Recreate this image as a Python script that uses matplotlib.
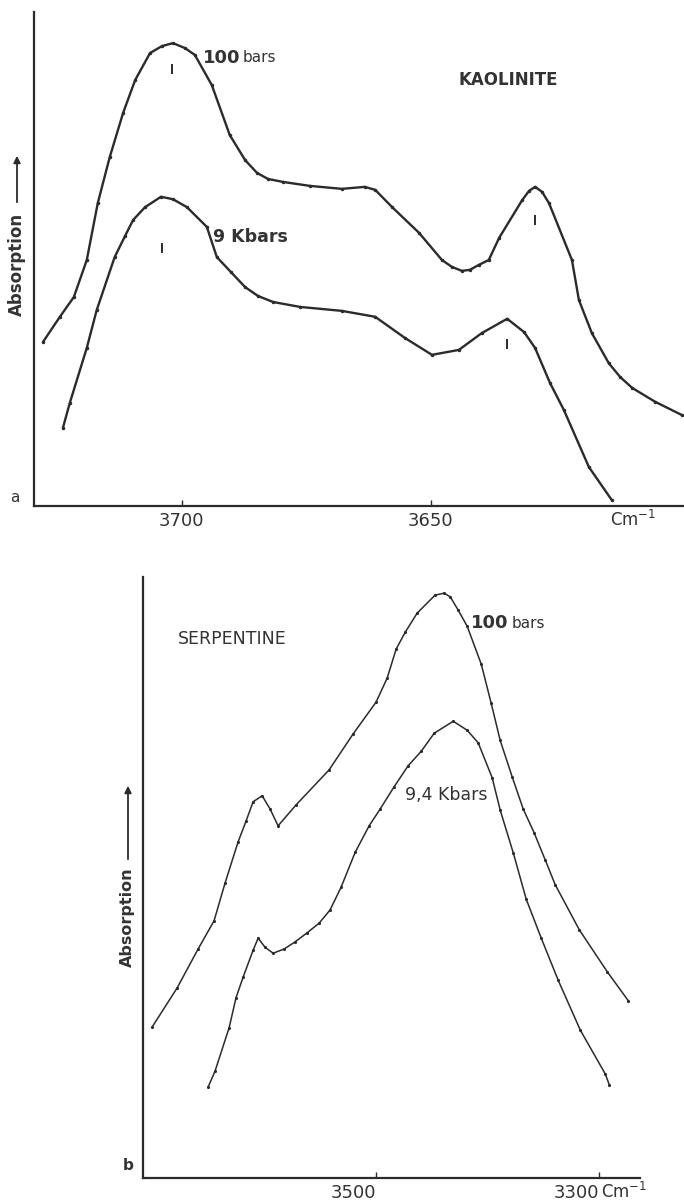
import matplotlib.pyplot as plt

plt.rcParams.update({'font.family': 'DejaVu Sans', 'text.color': '#333333'})

INK = '#2b2b2b'

# --- a : kaolinite, wavenumber (cm-1) vs absorption (arbitrary units) ---
kao_x_100 = [3727.9, 3724.5, 3721.7, 3719.1, 3716.9, 3714.5, 3711.8, 3709.4, 3706.4,
             3704.0, 3701.8, 3699.4, 3697.4, 3694.0, 3690.4, 3687.3, 3684.9, 3682.7,
             3679.7, 3674.3, 3667.9, 3663.3, 3661.2, 3657.8, 3652.4, 3647.8, 3645.8,
             3643.8, 3642.2, 3640.4, 3638.4, 3636.3, 3631.7, 3630.3, 3629.1, 3627.7,
             3626.3, 3621.7, 3620.3, 3617.7, 3614.3, 3612.0, 3609.6, 3605.0, 3599.6]
kao_y_100 = [33.2, 38.3, 42.3, 49.8, 61.3, 70.6, 79.6, 86.2, 91.7,
             93.1, 93.7, 92.7, 91.3, 85.2, 75.1, 70.0, 67.4, 66.2,
             65.6, 64.8, 64.2, 64.6, 64.0, 60.5, 55.3, 49.8, 48.4,
             47.6, 47.8, 48.8, 49.8, 54.3, 61.9, 63.8, 64.6, 63.6,
             61.3, 49.8, 41.7, 35.0, 28.9, 26.1, 23.9, 21.1, 18.4]

kao_x_9k = [3723.9, 3722.5, 3719.1, 3717.1, 3713.5, 3711.4, 3709.8, 3707.4, 3704.2,
            3701.8, 3699.0, 3695.0, 3693.0, 3690.2, 3687.3, 3684.7, 3681.7, 3676.3,
            3667.9, 3661.2, 3655.2, 3649.8, 3644.4, 3639.8, 3634.7, 3631.3, 3629.1,
            3626.1, 3623.3, 3618.3, 3613.7]
kao_y_9k = [15.8, 20.9, 32.0, 39.7, 50.4, 54.7, 57.9, 60.5, 62.6,
            62.1, 60.5, 56.5, 50.4, 47.4, 44.3, 42.5, 41.3, 40.3,
            39.5, 38.3, 34.0, 30.6, 31.6, 35.0, 37.9, 35.2, 32.0,
            24.9, 19.4, 7.9, 1.2]

# little vertical bars under the band maxima
kao_mark_x = [3702.0, 3704.0, 3629.1, 3634.7]
kao_mark_y = [88.5, 52.2, 57.9, 32.8]
kao_ticks = [3700, 3650]

# --- b : serpentine ---
serp_x_100 = [3700.9, 3678.5, 3659.6, 3645.3, 3635.4, 3623.8, 3616.6, 3610.3, 3602.2,
              3595.1, 3587.9, 3571.7, 3542.2, 3520.6, 3500.0, 3490.1, 3482.1, 3474.0,
              3463.2, 3447.1, 3439.0, 3433.6, 3426.5, 3418.4, 3405.8, 3396.9, 3388.8,
              3378.0, 3368.2, 3358.3, 3348.4, 3339.5, 3317.9, 3292.8, 3274.0]
serp_y_100 = [25.1, 31.6, 38.1, 42.8, 49.1, 55.9, 59.4, 62.6, 63.6,
              61.4, 58.6, 62.1, 67.9, 73.9, 79.2, 83.2, 88.0, 90.8,
              94.0, 97.0, 97.3, 96.7, 94.5, 91.8, 85.5, 79.0, 72.8,
              66.7, 61.4, 57.4, 52.9, 48.8, 41.3, 34.3, 29.5]

serp_x_94k = [3650.7, 3644.4, 3631.8, 3625.6, 3619.3, 3610.3, 3605.8, 3599.6, 3592.4,
              3582.5, 3572.6, 3561.9, 3551.1, 3541.3, 3531.4, 3518.8, 3506.3, 3496.4,
              3483.9, 3471.3, 3459.6, 3448.0, 3430.9, 3418.4, 3408.5, 3396.0, 3388.8,
              3377.1, 3365.5, 3352.0, 3336.8, 3317.0, 3294.6, 3291.0]
serp_y_94k = [15.1, 17.8, 25.0, 30.0, 33.4, 37.9, 39.9, 38.4, 37.4,
              38.1, 39.3, 40.8, 42.4, 44.6, 48.4, 54.2, 58.6, 61.4,
              65.1, 68.6, 71.0, 74.0, 76.0, 74.5, 72.4, 66.6, 61.2,
              54.1, 46.4, 39.9, 32.9, 24.6, 17.3, 15.5]
serp_ticks = [3500, 3300]


fig = plt.figure(figsize=(6.84, 12.01), dpi=100)
W, H = 684.0, 1201.0

ax_a = fig.add_axes([34 / W, 1 - 506 / H, (684 - 34) / W, (506 - 12) / H])
ax_b = fig.add_axes([143 / W, 1 - 1178 / H, (640 - 143) / W, (1178 - 577) / H])

for ax in (ax_a, ax_b):
    ax.spines['top'].set_visible(False)
    ax.spines['right'].set_visible(False)
    for s in ('left', 'bottom'):
        ax.spines[s].set_linewidth(1.6)
        ax.spines[s].set_color(INK)
    ax.set_yticks([])
    ax.set_ylim(0, 100)
    ax.tick_params(axis='x', direction='in', length=4, width=1, colors=INK,
                   labelsize=13, pad=4, labelcolor='#333333')

line_kw = dict(color=INK, marker='.', solid_joinstyle='round', solid_capstyle='round')

# panel a
ax_a.plot(kao_x_100, kao_y_100, lw=1.7, ms=3, **line_kw)
ax_a.plot(kao_x_9k, kao_y_9k, lw=1.7, ms=3, **line_kw)
ax_a.plot(kao_mark_x, kao_mark_y, ls='none', marker='|', ms=7, mew=1.4, color=INK)
ax_a.set_xlim(3729.7, 3599.2)
ax_a.set_xticks(kao_ticks)
ax_a.set_xticklabels([str(t) for t in kao_ticks])

ax_a.text(3695.8, 90.7, '100', fontsize=13, fontweight='bold', va='center')
ax_a.text(3687.8, 90.7, 'bars', fontsize=11, va='center')
ax_a.text(3693.8, 54.5, '9 Kbars', fontsize=12.5, fontweight='semibold', va='center')
ax_a.text(3634.5, 86.2, 'KAOLINITE', fontsize=12, fontweight='bold', ha='center', va='center')
ax_a.text(3609.4, -0.028, 'Cm$^{-1}$', fontsize=12, ha='center', va='center',
          transform=ax_a.get_xaxis_transform())

# panel b
ax_b.plot(serp_x_100, serp_y_100, lw=1.1, ms=2.5, **line_kw)
ax_b.plot(serp_x_94k, serp_y_94k, lw=1.1, ms=2.5, **line_kw)
ax_b.set_xlim(3709, 3263.5)
ax_b.set_xticks(serp_ticks)
ax_b.set_xticklabels([str(t) for t in serp_ticks], ha='right')

ax_b.text(3677.6, 89.7, 'SERPENTINE', fontsize=12.5, va='center')
ax_b.text(3414.8, 92.3, '100', fontsize=13, fontweight='bold', va='center')
ax_b.text(3379.0, 92.3, 'bars', fontsize=11, va='center')
ax_b.text(3474.0, 63.7, '9,4 Kbars', fontsize=12.5, va='center')
ax_b.text(3277.6, -0.023, 'Cm$^{-1}$', fontsize=12, ha='center', va='center',
          transform=ax_b.get_xaxis_transform())

# Absorption labels with arrows, panel letters
fig.text(17 / W, 1 - 264 / H, 'Absorption', rotation=90, fontsize=12,
         fontweight='bold', ha='center', va='center')
fig.add_artist(plt.Annotation('', xy=(17 / W, 1 - 153 / H), xytext=(17 / W, 1 - 205 / H),
                              xycoords='figure fraction',
                              arrowprops=dict(arrowstyle='-|>', lw=1.3, color=INK,
                                              mutation_scale=10)))
fig.text(127 / W, 1 - 917 / H, 'Absorption', rotation=90, fontsize=11.5,
         fontweight='bold', ha='center', va='center')
fig.add_artist(plt.Annotation('', xy=(128 / W, 1 - 783 / H), xytext=(128 / W, 1 - 862 / H),
                              xycoords='figure fraction',
                              arrowprops=dict(arrowstyle='-|>', lw=1.3, color=INK,
                                              mutation_scale=10)))
fig.text(15 / W, 1 - 497 / H, 'a', fontsize=11, ha='center', va='center')
fig.text(128 / W, 1 - 1165 / H, 'b', fontsize=11, fontweight='bold', ha='center', va='center')

fig.savefig('out.png', dpi=100, facecolor='white')
